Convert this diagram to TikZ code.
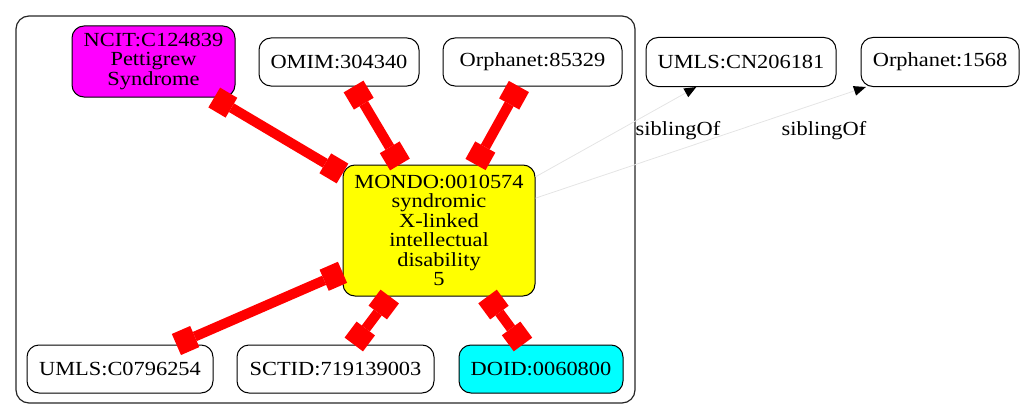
\documentclass[tikz,border=0pt]{standalone}
\usepackage{fontspec}
\setmainfont{Liberation Serif}[FakeStretch=1.12]
\usetikzlibrary{arrows.meta}
\definecolor{cMag}{RGB}{255,0,255}
\definecolor{cCyan}{RGB}{0,255,255}
\definecolor{cYel}{RGB}{255,255,0}
\definecolor{cSib}{RGB}{228,228,228}
\begin{document}
\begin{tikzpicture}[x=1pt,y=-1pt,
  box/.style={draw=black, line width=1pt, rounded corners=12pt, inner sep=0pt, align=center, font=\fontsize{20}{19.5}\selectfont},
  clusterbox/.style={draw=black!85, line width=1.2pt, rounded corners=13pt, inner sep=0pt},
  redge/.style={draw=red, line width=10pt, {Square[length=20pt,width=23pt,line width=0pt]}-{Square[length=20pt,width=23pt,line width=0pt]}},
  sedge/.style={draw=cSib, line width=0.8pt, -{Triangle[length=12pt,width=10pt,black,line width=0pt]}},
  lbl/.style={font=\fontsize{20}{19.5}\selectfont, inner sep=0pt}]
\useasboundingbox (0,0) rectangle (1033,420);
\node[clusterbox, minimum width=619pt, minimum height=387pt] (clu) at (325.5,209.5) {};
% nodes
\node[box, fill=cMag, minimum width=163pt, minimum height=71pt] (ncit) at (153.5,61.5) {NCIT:C124839\\Pettigrew\\Syndrome};
\node[box, fill=white, minimum width=160pt, minimum height=48pt] (omim) at (339,62) {OMIM:304340};
\node[box, fill=white, minimum width=179pt, minimum height=48pt] (orpha) at (532.5,62) {Orphanet:85329};
\node[box, fill=white, minimum width=190pt, minimum height=49pt] (umlscn) at (741,62) {UMLS:CN206181};
\node[box, fill=white, minimum width=158pt, minimum height=49pt] (orphb) at (940,62) {Orphanet:1568};
\node[box, fill=cYel, minimum width=192pt, minimum height=131pt] (mondo) at (439,230.5) {MONDO:0010574\\syndromic\\X-linked\\intellectual\\disability\\5};
\node[box, fill=white, minimum width=186pt, minimum height=48pt] (umlsc) at (120,369) {UMLS:C0796254};
\node[box, fill=white, minimum width=197pt, minimum height=48pt] (sctid) at (335.5,369) {SCTID:719139003};
\node[box, fill=cCyan, minimum width=164pt, minimum height=48pt] (doid) at (541,369) {DOID:0060800};
% red edges
\draw[redge] (ncit) -- (mondo);
\draw[redge] (omim) -- (mondo);
\draw[redge] (orpha) -- (mondo);
\draw[redge] (mondo) -- (umlsc);
\draw[redge] (mondo) -- (sctid);
\draw[redge] (mondo) -- (doid);
% sibling edges
\draw[sedge] (mondo) -- (umlscn);
\draw[sedge] (mondo) -- (orphb);
\node[lbl] (l1) at (678,131) {siblingOf};
\node[lbl] (l2) at (824,131) {siblingOf};
\end{tikzpicture}
\end{document}
